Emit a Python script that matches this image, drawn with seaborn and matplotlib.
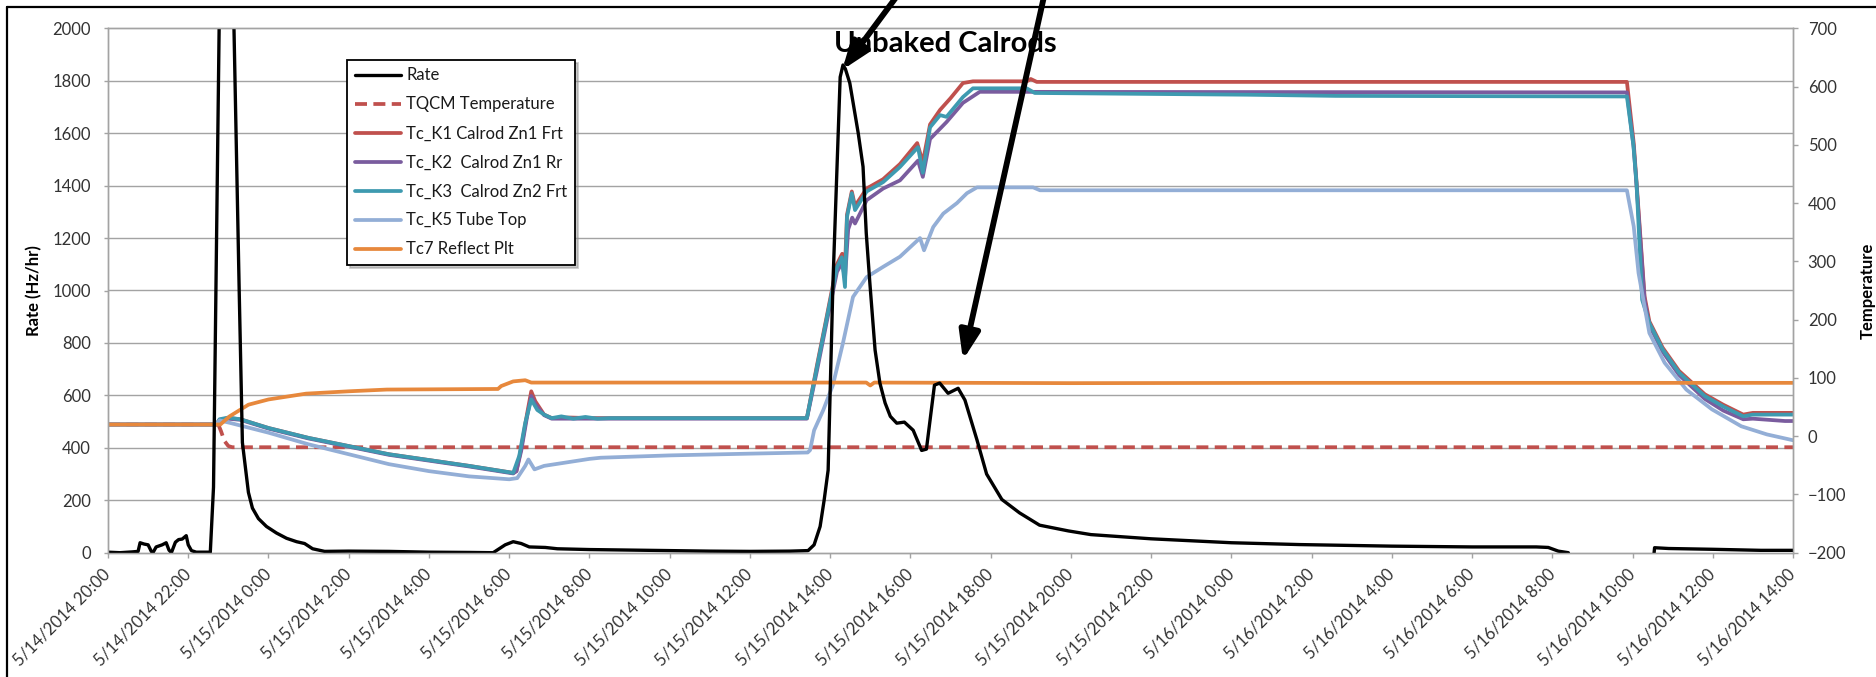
import matplotlib
matplotlib.use("Agg")
import numpy as np
import pandas as pd
import seaborn as sns
import matplotlib.pyplot as plt
import matplotlib.dates as mdates
from matplotlib.ticker import FixedLocator, FuncFormatter
from matplotlib.lines import Line2D

# time axis: hours after 5/14/2014 20:00
start = pd.Timestamp("2014-05-14 20:00")
span_hours = 42

# Rate (Hz/hr), left axis
rate_h = [0.0, 0.3, 0.6, 0.75, 0.8, 0.9, 1.0, 1.08, 1.12, 1.2, 1.35, 1.45, 1.52, 1.58,
          1.68, 1.76, 1.85, 1.95, 2.0, 2.08, 2.2, 2.55, 2.63, 2.77, 2.92, 3.14, 3.27,
          3.35, 3.5, 3.6, 3.75, 3.95, 4.2, 4.45, 4.7, 4.9, 5.1, 5.4, 6.0, 7.0, 8.0,
          9.0, 9.6, 9.9, 10.1, 10.3, 10.5, 10.9, 11.2, 12.0, 13.0, 14.0, 15.0, 16.0,
          17.0, 17.45, 17.6, 17.75, 17.85, 17.95, 18.07, 18.25, 18.32, 18.38, 18.49,
          18.7, 18.82, 18.9, 18.99, 19.12, 19.24, 19.37, 19.5, 19.66, 19.85, 20.07,
          20.28, 20.4, 20.6, 20.73, 20.94, 21.19, 21.36, 21.66, 21.9, 22.28, 22.72,
          23.22, 23.94, 24.5, 26.0, 28.0, 29.7, 32.0, 34.0, 35.6, 35.9, 36.15, 36.4,
          36.45, 38.5, 38.55, 38.9, 40.0, 41.2, 42.0]
rate_v = [2, 0, 3, 5, 38, 33, 30, 5, 0, 22, 30, 38, 10, 0,
          40, 50, 52, 65, 30, 8, 2, 2, 250, 2000, 3800, 2000, 1000,
          420, 230, 170, 130, 100, 75, 55, 42, 35, 15, 5, 6, 5, 2,
          1, 0, 30, 42, 35, 22, 20, 15, 12, 10, 8, 6, 5,
          6, 8, 30, 100, 200, 315, 1028, 1814, 1860, 1845, 1791,
          1600, 1472, 1219, 1028, 773, 647, 571, 520, 494, 498, 467,
          390, 395, 639, 647, 608, 627, 582, 430, 300, 203, 152,
          105, 83, 69, 53, 38, 31, 25, 22, 22, 20, 6, 0,
          -60, -60, 19, 16, 13, 9, 9]

# TQCM Temperature, right axis
tqcm_h = [0.0, 2.75, 2.82, 2.9, 3.0, 3.1, 42.0]
tqcm_v = [20, 20, 8, -8, -17, -19, -19]

# Tc_K1 Calrod Zn1 Frt
k1_h = [0.0, 2.7, 2.78, 3.0, 3.3, 4.0, 5.0, 6.0, 7.0, 8.0, 9.0, 10.1, 10.18, 10.3,
        10.45, 10.55, 10.65, 10.87, 11.06, 11.5, 12.0, 17.42, 17.67, 17.92, 18.17,
        18.3, 18.37, 18.42, 18.54, 18.62, 18.91, 19.32, 19.74, 20.17, 20.31, 20.49,
        20.74, 21.0, 21.31, 21.56, 22.9, 23.0, 23.15, 37.86, 38.03, 38.1, 38.3,
        38.42, 38.75, 39.16, 39.8, 40.26, 40.76, 41.0, 42.0]
k1_v = [20, 20, 28, 31, 29, 14, -3, -17, -31, -41, -51, -63, -60, -20,
        40, 77, 60, 37, 31, 32, 31, 31, 121, 207, 295,
        313, 290, 380, 420, 395, 425, 441, 467, 503, 470, 535,
        560, 580, 606, 609, 609, 613, 608, 608, 503, 436, 240,
        197, 152, 112, 72, 54, 37, 40, 40]

# Tc_K2  Calrod Zn1 Rr
k2_h = [0.0, 2.7, 2.78, 3.0, 3.3, 4.0, 5.0, 6.0, 7.0, 8.0, 9.0, 10.1, 10.18, 10.3,
        10.45, 10.55, 10.65, 10.87, 11.06, 12.0, 17.42, 17.67, 17.92, 18.17, 18.3,
        18.37, 18.45, 18.55, 18.62, 18.91, 19.32, 19.74, 20.19, 20.31, 20.49, 20.9,
        21.31, 21.73, 37.86, 38.03, 38.1, 38.3, 38.42, 38.75, 39.16, 39.8, 40.26,
        40.76, 41.0, 41.8, 42.0]
k2_v = [20, 20, 27, 30, 28, 13, -4, -18, -32, -42, -52, -64, -60, -25,
        35, 69, 55, 36, 30, 30, 30, 112, 198, 282, 298,
        270, 355, 375, 365, 405, 425, 439, 473, 445, 510, 539,
        572, 591, 590, 495, 430, 234, 190, 145, 105, 64, 44,
        29, 30, 26, 26]

# Tc_K3  Calrod Zn2 Frt
k3_h = [0.0, 2.7, 2.78, 3.0, 3.3, 4.0, 5.0, 6.0, 7.0, 8.0, 9.0, 10.1, 10.25, 10.4,
        10.55, 10.7, 10.87, 11.06, 11.3, 11.6, 11.9, 12.2, 12.5, 17.42, 17.67, 17.92,
        18.17, 18.29, 18.37, 18.42, 18.54, 18.62, 18.91, 19.32, 19.74, 20.19, 20.31,
        20.49, 20.74, 20.9, 21.31, 21.56, 22.9, 23.1, 28.4, 30.6, 37.86, 38.02, 38.1,
        38.24, 38.42, 38.75, 39.16, 39.8, 40.26, 40.76, 40.99, 42.0]
k3_v = [20, 20, 29, 32, 29, 14, -3, -17, -31, -41, -51, -63, -34, 23,
        63, 45, 37, 31, 34, 30, 33, 30, 31, 31, 118, 204,
        290, 307, 256, 376, 417, 388, 420, 436, 462, 496, 452,
        530, 551, 548, 582, 597, 597, 589, 586, 584, 583, 500, 434,
        234, 194, 149, 109, 69, 51, 34, 37, 37]

# Tc_K5 Tube Top
k5_h = [0.0, 2.7, 2.78, 3.03, 4.0, 5.0, 6.0, 7.0, 8.0, 9.0, 10.0, 10.2, 10.4, 10.48,
        10.63, 10.87, 12.0, 12.28, 14.0, 16.0, 17.44, 17.5, 17.6, 17.83, 18.07, 18.32,
        18.57, 18.91, 19.33, 19.74, 20.24, 20.34, 20.57, 20.82, 21.16, 21.41, 21.66,
        23.06, 23.23, 37.86, 38.03, 38.15, 38.27, 38.42, 38.8, 39.34, 39.98, 40.71,
        41.35, 42.0]
k5_v = [20, 20, 27, 23, 6, -14, -31, -48, -60, -69, -74, -72, -51, -40,
        -57, -51, -39, -37, -33, -30, -28, -24, 10, 45, 88, 160,
        239, 273, 291, 308, 340, 319, 359, 382, 400, 417, 427,
        427, 422, 422, 360, 280, 234, 177, 126, 80, 46, 17,
        3, -7]

# Tc7 Reflect Plt
tc7_h = [0.0, 2.8, 3.03, 3.5, 4.0, 4.94, 6.0, 6.95, 9.72, 9.8, 10.1, 10.4, 10.55,
         12.0, 18.9, 19.0, 19.1, 24.0, 30.0, 36.0, 42.0]
tc7_v = [20, 20, 34, 54, 63, 73, 77, 80, 81, 86, 94, 96, 92,
         92, 92, 87, 92, 91, 91.5, 91.5, 91.5]

rate_ticks = list(range(0, 2001, 200))
temp_ticks = list(range(-200, 701, 100))


def to_time(hours):
    return start + pd.to_timedelta(hours, unit="h")


sns.set_style("white")
plt.rcParams["font.family"] = ["Lato", "DejaVu Sans"]
grid_col = "#A3A3A3"
text_col = "#333333"

fig = plt.figure(figsize=(18.76, 6.77), dpi=100)
W, H = 1876, 677
ax = fig.add_axes([108 / W, 1 - 552.7 / H, 1685 / W, 524.4 / H])
ax2 = ax.twinx()
ax.set_zorder(2)
ax2.set_zorder(1)
ax.patch.set_visible(False)

sns.lineplot(x=to_time(rate_h), y=rate_v, ax=ax, color="black", linewidth=2.4,
             estimator=None, sort=False, label="Rate", legend=False)

temp_series = [
    (tqcm_h, tqcm_v, "#C0504D", "TQCM Temperature", (0, (3.2, 1.7))),
    (k1_h, k1_v, "#C0504D", "Tc_K1 Calrod Zn1 Frt", "-"),
    (k2_h, k2_v, "#7A5C9E", "Tc_K2  Calrod Zn1 Rr", "-"),
    (k3_h, k3_v, "#3E9AB0", "Tc_K3  Calrod Zn2 Frt", "-"),
    (k5_h, k5_v, "#93AED6", "Tc_K5 Tube Top", "-"),
    (tc7_h, tc7_v, "#E7883C", "Tc7 Reflect Plt", "-"),
]
for hh, vv, col, lab, ls in temp_series:
    sns.lineplot(x=to_time(hh), y=vv, ax=ax2, color=col, linewidth=2.7,
                 linestyle=ls, estimator=None, sort=False, label=lab, legend=False)

# axes ranges and ticks
ax.set_xlim(to_time(0), to_time(span_hours))
ax.set_ylim(0, 2000)
ax2.set_ylim(-200, 700)
ax.set_yticks(rate_ticks)
ax2.set_yticks(temp_ticks)
ax.xaxis.set_major_locator(mdates.HourLocator(byhour=range(0, 24, 2)))
ax.xaxis.set_major_formatter(FuncFormatter(
    lambda v, p: (lambda d: f"{d.month}/{d.day}/{d.year} {d.hour}:{d.minute:02d}")(
        mdates.num2date(v))))

# grid lives on the temperature axis so that Rate draws on top of everything
grid_pos = [-200 + 0.45 * r for r in rate_ticks]
ax2.yaxis.set_minor_locator(FixedLocator(grid_pos))
ax2.grid(which="minor", axis="y", color=grid_col, linewidth=1)
ax2.grid(which="major", axis="x", color=grid_col, linewidth=1)
ax2.grid(which="major", axis="y", visible=False)
ax2.tick_params(axis="y", which="minor", length=0)
ax.grid(False)

for a in (ax, ax2):
    for s in a.spines.values():
        s.set_color(grid_col)
        s.set_linewidth(1)

ax.tick_params(axis="y", direction="out", length=3.2, width=1, color=grid_col,
               pad=9, labelsize=12, labelcolor=text_col, left=True)
ax.tick_params(axis="x", direction="out", length=3.6, width=1, color=grid_col,
               pad=10, labelsize=12, labelcolor=text_col, bottom=True)
ax2.tick_params(axis="y", which="major", direction="out", length=3.6, width=1,
                color=grid_col, pad=7, labelsize=12, labelcolor=text_col, right=True)
for lab in ax.get_xticklabels():
    lab.set_rotation(45)
    lab.set_ha("right")
    lab.set_va("center")
    lab.set_rotation_mode("anchor")

ax.set_xlabel("")
ax.set_ylabel("Rate (Hz/hr)", fontsize=12, fontweight="bold", color="black")
ax2.set_ylabel("Temperature", fontsize=12, fontweight="bold", color="black")
ax.yaxis.set_label_coords(-0.0392, 0.5)
ax2.yaxis.set_label_coords(1.0398, 0.5)

ax.text(0.4967, 0.9548, "Unbaked Calrods", transform=ax.transAxes, ha="center",
        va="baseline", fontsize=21, fontweight="bold", color="black", zorder=6)

# legend
handles = ax.get_lines() + ax2.get_lines()
handles = [h for h in handles if not h.get_label().startswith("_")]
labels = [h.get_label() for h in handles]
leg = ax.legend(handles, labels, loc="upper left",
                bbox_to_anchor=(347 / W, 1 - 60 / H), bbox_transform=fig.transFigure,
                borderaxespad=0, frameon=True, fancybox=False, edgecolor="black",
                framealpha=1, fontsize=12, handlelength=2.8, handletextpad=0.3,
                labelspacing=0.78, borderpad=0.45,
                shadow={"color": "0.55", "alpha": 0.45})
leg.get_frame().set_linewidth(1.3)
for t in leg.get_texts():
    t.set_color("#1a1a1a")

# callout arrows coming in from above the chart
arrow_style = dict(arrowstyle="-|>,head_length=0.6,head_width=0.22", lw=4.2,
                   color="black", shrinkA=0, shrinkB=0, mutation_scale=28)
ax.annotate("", xy=(to_time(18.3), 1841), xycoords="data",
            xytext=(900 / W, 1 + 8 / H), textcoords="figure fraction",
            arrowprops=arrow_style, annotation_clip=False, zorder=7)
ax.annotate("", xy=(to_time(21.31), 735), xycoords="data",
            xytext=(1045 / W, 1 + 8 / H), textcoords="figure fraction",
            arrowprops=arrow_style, annotation_clip=False, zorder=7)

# frame of the pasted chart (left and top edges)
fig.add_artist(Line2D([7 / W, 7 / W], [0, 1 - 7 / H], transform=fig.transFigure,
                      color="black", linewidth=1.6))
fig.add_artist(Line2D([7 / W, 1], [1 - 7 / H, 1 - 7 / H], transform=fig.transFigure,
                      color="black", linewidth=1.6))

fig.savefig("out.png", dpi=100, facecolor="white")
